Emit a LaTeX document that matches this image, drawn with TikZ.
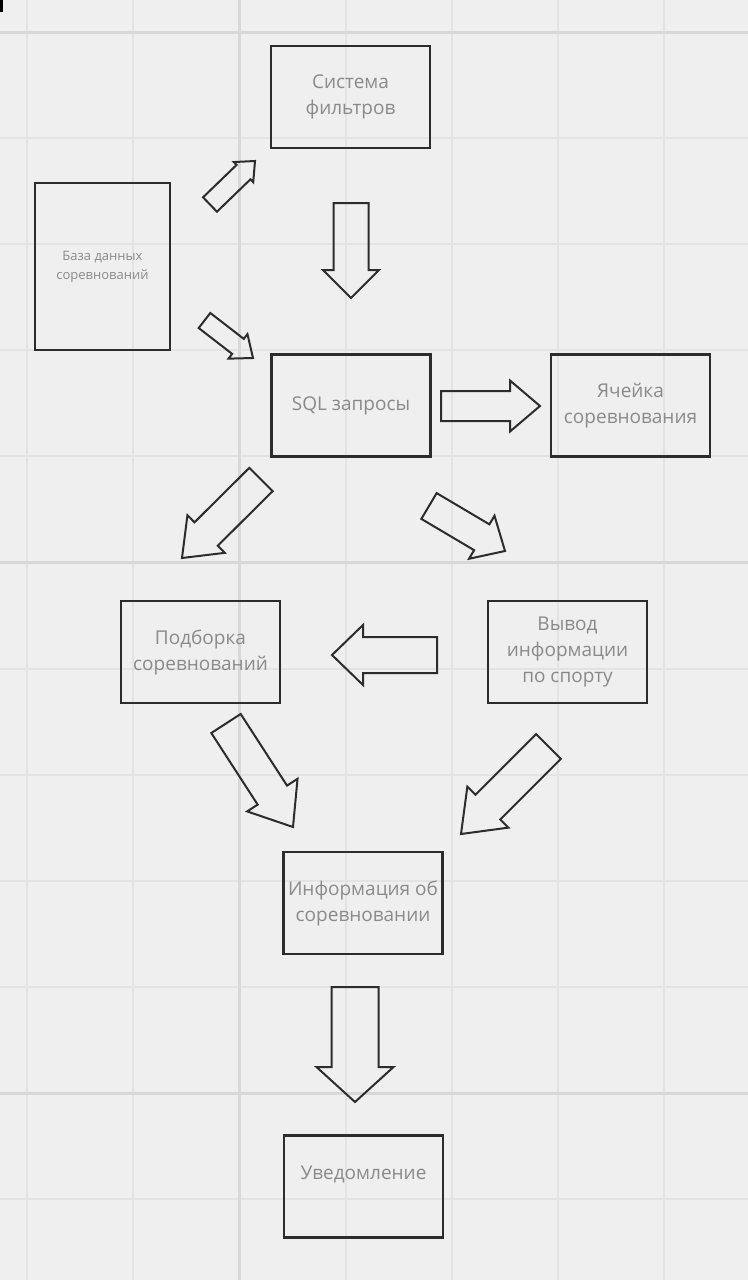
\documentclass[tikz,border=0pt]{standalone}
\usepackage{fontspec}
\setmainfont{Open Sans}
\usepackage{tikz}
\usetikzlibrary{calc}
\definecolor{bgcol}{HTML}{EFEFEF}
\definecolor{gridcol}{HTML}{E3E3E3}
\definecolor{majorcol}{HTML}{D8D8D8}
\definecolor{txtcol}{HTML}{8A8A8A}
\definecolor{edgecol}{HTML}{2C2C2C}
\tikzset{
  box/.style={draw=edgecol, line width=1.3pt, minimum width=79.5pt, minimum height=51pt,
    inner sep=0pt, align=center, text=txtcol, font=\fontsize{9.5}{13}\selectfont},
  barrow/.style={draw=edgecol, line width=1pt, line join=miter},
}
% block arrow: tail, tip, shaft width, head width, head length (all in px)
\newcommand{\blockarrow}[5]{%
  \coordinate (hb) at ($(#2)!#5*0.5pt!(#1)$);
  \draw[barrow] ($(#1)!#3*0.25pt!90:(#2)$) -- ($(hb)!#3*0.25pt!90:(#2)$)
    -- ($(hb)!#4*0.25pt!90:(#2)$) -- (#2)
    -- ($(hb)!#4*0.25pt!-90:(#2)$) -- ($(hb)!#3*0.25pt!-90:(#2)$)
    -- ($(#1)!#3*0.25pt!-90:(#2)$) -- cycle;
}

\begin{document}
\begin{tikzpicture}[x=0.5pt, y=-0.5pt]
    % 1. Background and grid
    \fill[bgcol] (0,0) rectangle (748,1280);
    \useasboundingbox (0,0) rectangle (748,1280);
    \foreach \i in {0,...,6}
        \draw[gridcol, line width=1pt] ({27+106.2*\i},0) -- ({27+106.2*\i},1280);
    \foreach \j in {0,...,11}
        \draw[gridcol, line width=1pt] (0,{32+106.1*\j}) -- (748,{32+106.1*\j});
    \draw[majorcol, line width=1.5pt] (239.4,0) -- (239.4,1280);
    \foreach \j in {0,5,10}
        \draw[majorcol, line width=1.5pt] (0,{32+106.1*\j}) -- (748,{32+106.1*\j});
    \fill (0,0) rectangle (3,12);

    % 2. Boxes
    \node[box, minimum width=67.5pt, minimum height=83.5pt,
          font=\fontsize{6.5}{9.5}\selectfont] (db) at (102.5,266.5) {База данных\\соревнований};
    \node[box] (filters) at (350.5,97) {Система\\фильтров};
    \node[box] (sql) at (351,405.5) {SQL запросы};
    \node[box] (cell) at (630.5,405.5) {Ячейка\\соревнования};
    \node[box] (pick) at (200.5,652) {Подборка\\соревнований};
    \node[box] (sport) at (567.5,652) {Вывод\\информации\\по спорту};
    \node[box] (info) at (363,903) {Информация об\\соревновании};
    \node[box, text depth=14pt] (notify) at (363.5,1186.5) {Уведомление};

    % 3. Arrow ends
    \coordinate (dbfilt-s) at (210,204.5);   \coordinate (dbfilt-e) at (255,161);
    \coordinate (dbsql-s) at (204.5,320.5);  \coordinate (dbsql-e) at (253,358);
    \coordinate (filtsql-s) at (351,203);    \coordinate (filtsql-e) at (351,298);
    \coordinate (sqlcell-s) at (441,406);    \coordinate (sqlcell-e) at (540,406);
    \coordinate (sqlpick-s) at (261,479.5);  \coordinate (sqlpick-e) at (182,558);
    \coordinate (sqlsport-s) at (429,506);   \coordinate (sqlsport-e) at (505,551);
    \coordinate (sportpick-s) at (437,655);  \coordinate (sportpick-e) at (332,655);
    \coordinate (pickinfo-s) at (226,723.5); \coordinate (pickinfo-e) at (293,827);
    \coordinate (sportinfo-s) at (548.5,746.5); \coordinate (sportinfo-e) at (461,834);
    \coordinate (infonote-s) at (355,987);   \coordinate (infonote-e) at (355,1102);

    % 4. Block arrows
    \blockarrow{dbfilt-s}{dbfilt-e}{20}{28}{16}
    \blockarrow{dbsql-s}{dbsql-e}{19}{31}{19}
    \blockarrow{filtsql-s}{filtsql-e}{35}{56}{28}
    \blockarrow{sqlcell-s}{sqlcell-e}{30}{51}{30}
    \blockarrow{sqlpick-s}{sqlpick-e}{33}{53}{34}
    \blockarrow{sqlsport-s}{sqlsport-e}{30}{50}{27}
    \blockarrow{sportpick-s}{sportpick-e}{36}{60}{31}
    \blockarrow{pickinfo-s}{pickinfo-e}{35}{60}{38}
    \blockarrow{sportinfo-s}{sportinfo-e}{35}{58}{38}
    \blockarrow{infonote-s}{infonote-e}{47}{77}{35}
\end{tikzpicture}
\end{document}
